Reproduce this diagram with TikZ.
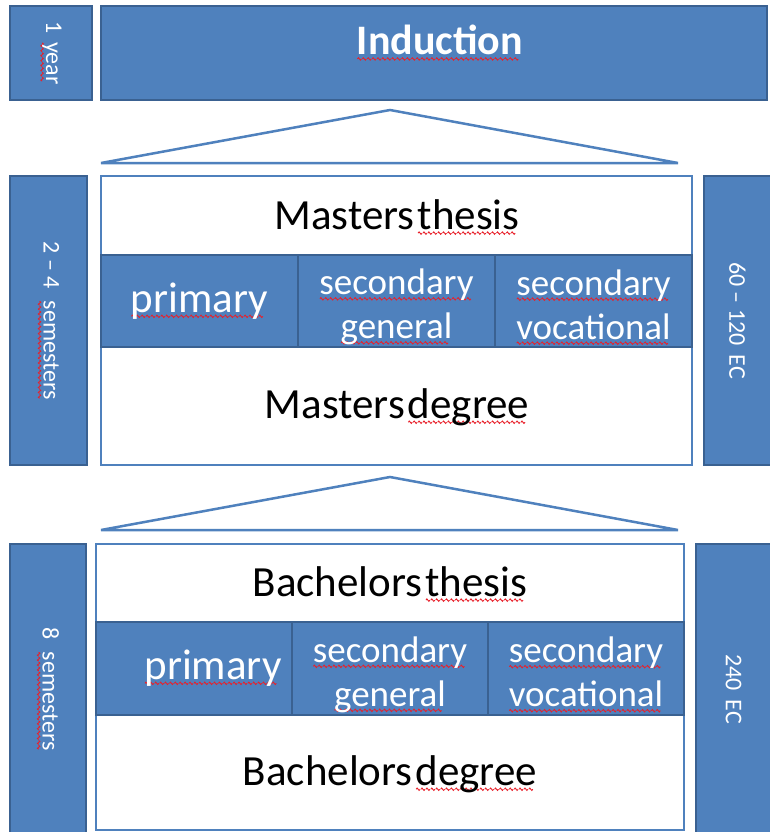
\documentclass[tikz,border=0pt]{standalone}
\usepackage{fontspec}
\setmainfont{Carlito}
\usepackage{xcolor}
\usepackage{tikz}
\usetikzlibrary{positioning}
\definecolor{ppblue}{HTML}{4F81BD}
\definecolor{ppedge}{HTML}{3A6191}
\definecolor{spellred}{HTML}{E8202A}
\newsavebox{\squigbox}
\newcommand{\wavebit}{\tikz[baseline=4pt]\draw[spellred, line width=0.9pt] (0pt,0pt) sin (1pt,1.2pt) cos (2pt,0pt) sin (3pt,-1.2pt) cos (4pt,0pt);}
\newcommand{\squig}[1]{\sbox{\squigbox}{#1}\rlap{\hbox to \wd\squigbox{\leaders\hbox{\wavebit}\hfill}}\usebox{\squigbox}}
\newcommand{\lowstrut}{\rule{0pt}{38pt}}

\begin{document}
\begin{tikzpicture}[
    x=1pt, y=-1pt,
    tile/.style={draw=ppedge, fill=ppblue, line width=1.6pt, text=white, inner sep=0pt, outer sep=0pt, align=center},
    side/.style={tile, rotate=-90, font=\fontsize{24}{30}\selectfont},
    frame/.style={draw=ppblue, fill=white, line width=2.5pt, inner sep=0pt},
    cell/.style={tile, minimum height=92pt, font=\fontsize{37}{44}\selectfont},
    title/.style={inner sep=0pt, font=\fontsize{43}{50}\selectfont},
    roof/.style={draw=ppblue, fill=white, line width=2.5pt}
]
\useasboundingbox (0,0) rectangle (769,832);

\node[side, minimum width=94pt, minimum height=82pt] (yr) at (51,53) {1\hspace{9pt}\squig{year}};
\node[tile, minimum width=666pt, minimum height=94pt] (induct) at (434,53) {};
\node[inner sep=0pt, text=white, font=\bfseries\fontsize{42}{48}\selectfont] (indtxt) at (440,43) {\squig{Induction}};

\draw[roof] (101,163) -- (390,110) -- (678,163) -- cycle;

\node[side, minimum width=289pt, minimum height=77pt] (msem) at (48.5,320.5) {2 – 4\hspace{12pt}\squig{semesters}};
\node[frame, minimum width=591pt, minimum height=289pt] (mframe) at (396.5,320.5) {};
\node[cell, minimum width=197pt] (mprim) at (199.5,301) {\fontsize{43}{50}\selectfont\squig{primary}};
\node[cell, minimum width=197pt, right=0pt of mprim] (mgen) {\lowstrut\squig{secondary}\\\squig{general}};
\node[cell, minimum width=197pt, right=0pt of mgen] (mvoc) {\lowstrut\squig{secondary}\\\squig{vocational}};
\node[title] (mthesis) at (397,217) {Masters\hspace{3pt}\squig{thesis}};
\node[title] (mdegree) at (397,407) {Masters\hspace{3pt}\squig{degree}};
\node[side, minimum width=289pt, minimum height=67pt] (mec) at (737.5,320.5) {60 – 120\hspace{9pt}EC};

\draw[roof] (101,530) -- (390,477) -- (678,530) -- cycle;

\node[side, minimum width=290pt, minimum height=76pt] (bsem) at (48,689) {8\hspace{12pt}\squig{semesters}};
\node[frame, minimum width=588pt, minimum height=286pt] (bframe) at (390,687) {};
\node[cell, minimum width=196pt, minimum height=93pt] (bprim) at (194,668.5) {};
\node[inner sep=0pt, text=white, font=\fontsize{43}{50}\selectfont] (bprimtxt) at (213,668) {\squig{primary}};
\node[cell, minimum width=196pt, minimum height=93pt, right=0pt of bprim] (bgen) {\lowstrut\squig{secondary}\\\squig{general}};
\node[cell, minimum width=196pt, minimum height=93pt, right=0pt of bgen] (bvoc) {\lowstrut\squig{secondary}\\\squig{vocational}};
\node[title] (bthesis) at (390,584) {Bachelors\hspace{3pt}\squig{thesis}};
\node[title] (bdegree) at (390,774) {Bachelors\hspace{3pt}\squig{degree}};
\node[side, minimum width=290pt, minimum height=75pt] (bec) at (733.5,689) {240\hspace{9pt}EC};
\end{tikzpicture}
\end{document}
